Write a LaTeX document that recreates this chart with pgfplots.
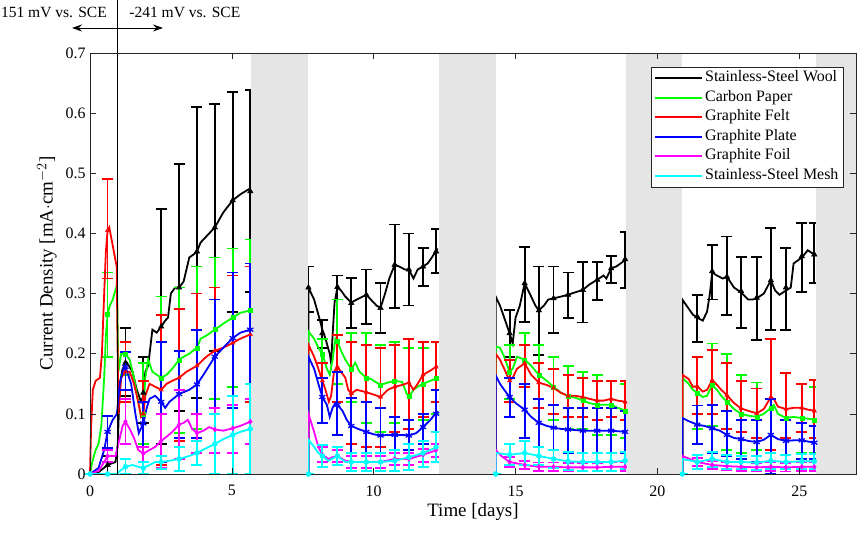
\documentclass[border=0pt]{standalone}
\usepackage{pgfplots}
\pgfplotsset{compat=1.18}
\usepackage{fontspec}
\setmainfont{Liberation Serif}
\usetikzlibrary{arrows.meta,calc}
\definecolor{mgreen}{rgb}{0,1,0}
\definecolor{mred}{rgb}{1,0,0}
\definecolor{mblue}{rgb}{0,0,1}
\definecolor{mmag}{rgb}{1,0,1}
\definecolor{mcyan}{rgb}{0,1,1}
\definecolor{band}{rgb}{0.898,0.898,0.898}
\newcommand{\fs}{\fontsize{16}{19}\selectfont}
\newcommand{\fa}{\fontsize{15.6}{19}\selectfont}
\pgfplotsset{
  errstyle/.style={only marks, forget plot,
    error bars/y dir=both, error bars/y explicit,
    error bars/error bar style={line width=1.8bp, solid},
    error bars/error mark options={rotate=90, mark size=5.5bp, line width=1.8bp}},
  lstyle/.style={line width=1.8bp, forget plot, mark=none},
}
\begin{document}
\begin{tikzpicture}
\begin{axis}[
  width=766bp, height=421bp, scale only axis,
  xmin=0, xmax=27, ymin=0, ymax=0.7,
  xtick={0,5,10,15,20,25},
  ytick={0,0.1,0.2,0.3,0.4,0.5,0.6,0.7},
  yticklabels={0,0.1,0.2,0.3,0.4,0.5,0.6,0.7},
  /pgf/number format/assume math mode=true,
  tick label style={font=\fs},
  xticklabel style={yshift=-8bp},
  yticklabel style={xshift=-1bp},
  major tick length=6bp,
  axis line style={black!85, line width=0.6bp},
  tick style={black!85, line width=0.6bp},
  clip=false, axis on top,
  unbounded coords=jump,
  xlabel={Time [days]}, ylabel={Current Density [mA$\cdot$cm$^{-2}$]},
  label style={font=\fontsize{19}{21}\selectfont},
  xlabel style={at={(axis description cs:0.5,-0.0903)}, anchor=center},
  ylabel style={at={(axis description cs:-0.0561,0.5)}, anchor=center},
  legend style={at={(axis description cs:0.984,0.9675)}, anchor=north east,
    font=\fontsize{16}{19.5}\selectfont, draw=black!85, line width=0.6bp, fill=white,
    inner xsep=2.5bp, inner ysep=1.7bp, row sep=0bp,
    nodes={inner ysep=0bp, inner xsep=2.5bp, text height=13.3bp, text depth=6.2bp}},
  legend cell align=left,
  legend image code/.code={\draw[#1, line width=2bp] (0bp,0bp) -- (46.5bp,0bp);},
]
\addlegendimage{black}\addlegendentry{Stainless-Steel Wool}
\addlegendimage{mgreen}\addlegendentry{Carbon Paper}
\addlegendimage{mred}\addlegendentry{Graphite Felt}
\addlegendimage{mblue}\addlegendentry{Graphite Plate}
\addlegendimage{mmag}\addlegendentry{Graphite Foil}
\addlegendimage{mcyan}\addlegendentry{Stainless-Steel Mesh}

% ---------------- Stainless-Steel Wool
\addplot[lstyle, black] coordinates {
(0,0) (0.3,0.003) (0.62,0.015) (0.9,0.02) (0.98,0.05) (1.05,0.15) (1.15,0.175) (1.3,0.185) (1.5,0.17) (1.65,0.14) (1.8,0.12) (1.88,0.13) (1.95,0.17) (2.05,0.18) (2.2,0.24) (2.35,0.235) (2.51,0.245) (2.65,0.255) (2.75,0.26) (2.85,0.3) (3.0,0.31) (3.14,0.31) (3.3,0.32) (3.5,0.36) (3.65,0.365) (3.77,0.37) (3.9,0.385) (4.1,0.395) (4.4,0.41) (4.7,0.435) (5.03,0.455) (5.3,0.465) (5.65,0.475)
(6.5,nan)
(7.7,0) (7.7,0.31) (7.9,0.29) (8.05,0.265) (8.19,0.24) (8.3,0.225) (8.45,0.2) (8.5,0.185) (8.55,0.23) (8.62,0.285) (8.72,0.31) (8.85,0.305) (9.0,0.295) (9.21,0.285) (9.4,0.29) (9.74,0.298) (9.9,0.29) (10.1,0.28) (10.24,0.276) (10.4,0.3) (10.55,0.325) (10.74,0.348) (10.9,0.345) (11.1,0.34) (11.24,0.34) (11.4,0.325) (11.55,0.34) (11.74,0.345) (11.9,0.35) (12.05,0.36) (12.25,0.375)
(13,nan)
(14.3,0) (14.3,0.295) (14.45,0.28) (14.6,0.26) (14.79,0.234) (14.9,0.217) (15.0,0.26) (15.15,0.28) (15.32,0.317) (15.5,0.3) (15.7,0.28) (15.82,0.272) (16.0,0.28) (16.15,0.29) (16.34,0.292) (16.6,0.295) (16.85,0.298) (17.1,0.302) (17.37,0.306) (17.6,0.315) (17.88,0.323) (18.1,0.33) (18.2,0.325) (18.37,0.342) (18.55,0.345) (18.7,0.35) (18.9,0.357)
(19.5,nan)
(20.88,0) (20.88,0.29) (21.1,0.275) (21.25,0.265) (21.4,0.26) (21.6,0.255) (21.75,0.27) (21.85,0.3) (21.93,0.335) (22.1,0.33) (22.3,0.325) (22.45,0.328) (22.7,0.31) (22.95,0.302) (23.2,0.29) (23.35,0.29) (23.5,0.292) (23.75,0.3) (24.0,0.322) (24.15,0.305) (24.3,0.298) (24.53,0.305) (24.7,0.31) (24.8,0.35) (25.09,0.36) (25.3,0.372) (25.53,0.365) (25.58,0.365)
};
\addplot[errstyle, black, mark=triangle*, mark size=3.2bp] table[x=x,y=y,y error plus expr=\thisrow{t}-\thisrow{y},y error minus expr=\thisrow{y}-\thisrow{b}] {
x y t b
0.62 0.015 0.03 0.0
1.25 0.185 0.243 0.13
1.88 0.135 0.195 0.085
2.51 0.245 0.44 0.05
3.14 0.31 0.515 0.105
3.77 0.37 0.61 0.126
4.4 0.41 0.615 0.205
5.03 0.455 0.635 0.27
5.65 0.47 0.638 0.303
7.7 0.31 0.345 0.27
8.19 0.234 0.256 0.21
8.72 0.311 0.33 0.29
9.21 0.284 0.326 0.243
9.74 0.298 0.34 0.25
10.24 0.276 0.318 0.234
10.74 0.348 0.415 0.276
11.24 0.34 0.4 0.28
11.74 0.345 0.376 0.313
12.2 0.37 0.407 0.334
14.79 0.234 0.273 0.195
15.32 0.317 0.378 0.253
15.82 0.272 0.345 0.198
16.34 0.292 0.345 0.234
16.85 0.298 0.335 0.259
17.37 0.306 0.353 0.252
17.88 0.323 0.353 0.289
18.37 0.342 0.362 0.318
18.86 0.357 0.403 0.309
21.4 0.262 0.298 0.22
21.93 0.337 0.381 0.29
22.45 0.328 0.395 0.265
22.95 0.304 0.361 0.243
23.5 0.293 0.361 0.223
24.0 0.322 0.409 0.24
24.53 0.31 0.376 0.24
25.09 0.362 0.418 0.302
25.53 0.365 0.417 0.317
};

% ---------------- Carbon Paper
\addplot[lstyle, mgreen] coordinates {
(0,0) (0.08,0.02) (0.2,0.04) (0.3,0.05) (0.4,0.08) (0.5,0.16) (0.56,0.23) (0.62,0.266) (0.7,0.28) (0.8,0.29) (0.95,0.314) (1.0,0.17) (1.1,0.2) (1.25,0.2) (1.4,0.19) (1.55,0.16) (1.7,0.12) (1.8,0.095) (1.88,0.1) (1.95,0.16) (2.05,0.19) (2.2,0.17) (2.35,0.165) (2.51,0.16) (2.7,0.165) (2.9,0.175) (3.14,0.19) (3.3,0.195) (3.5,0.2) (3.77,0.21) (3.9,0.225) (4.1,0.23) (4.4,0.24) (4.7,0.25) (5.03,0.26) (5.3,0.268) (5.65,0.272)
(6.5,nan)
(7.7,0) (7.7,0.237) (7.9,0.225) (8.05,0.21) (8.19,0.2) (8.35,0.175) (8.45,0.165) (8.55,0.19) (8.65,0.225) (8.72,0.22) (8.85,0.205) (9.0,0.19) (9.21,0.175) (9.35,0.185) (9.5,0.17) (9.74,0.16) (9.9,0.158) (10.24,0.148) (10.5,0.152) (10.74,0.155) (11.0,0.153) (11.15,0.135) (11.24,0.128) (11.4,0.14) (11.55,0.145) (11.74,0.15) (12.0,0.155) (12.25,0.16)
(13,nan)
(14.3,0) (14.3,0.212) (14.45,0.21) (14.6,0.195) (14.79,0.17) (14.9,0.175) (15.05,0.195) (15.32,0.19) (15.55,0.18) (15.82,0.165) (16.1,0.155) (16.34,0.145) (16.6,0.135) (16.85,0.13) (17.1,0.127) (17.37,0.122) (17.6,0.118) (17.88,0.115) (18.1,0.115) (18.37,0.115) (18.6,0.11) (18.9,0.105)
(19.5,nan)
(20.88,0) (20.88,0.16) (21.1,0.15) (21.25,0.14) (21.4,0.135) (21.6,0.128) (21.75,0.13) (21.93,0.148) (22.1,0.14) (22.25,0.13) (22.45,0.12) (22.7,0.108) (22.95,0.1) (23.2,0.097) (23.5,0.095) (23.75,0.1) (24.0,0.11) (24.1,0.115) (24.25,0.1) (24.53,0.093) (24.8,0.095) (25.09,0.093) (25.3,0.092) (25.58,0.09)
};
\addplot[errstyle, mgreen, mark=square*, mark size=2bp] table[x=x,y=y,y error plus expr=\thisrow{t}-\thisrow{y},y error minus expr=\thisrow{y}-\thisrow{b}] {
x y t b
0.62 0.266 0.335 0.195
1.25 0.2 0.22 0.165
1.88 0.1 0.185 0.05
2.51 0.16 0.295 0.03
3.14 0.19 0.31 0.068
3.77 0.21 0.345 0.075
4.4 0.24 0.36 0.125
5.03 0.26 0.375 0.145
5.65 0.272 0.39 0.15
8.19 0.2 0.225 0.16
8.72 0.22 0.29 0.15
9.21 0.175 0.235 0.12
9.74 0.16 0.235 0.085
10.24 0.148 0.215 0.07
10.74 0.155 0.22 0.085
11.24 0.13 0.21 0.075
11.74 0.15 0.21 0.09
12.2 0.16 0.22 0.1
14.79 0.17 0.215 0.125
15.32 0.19 0.234 0.145
15.82 0.165 0.215 0.11
16.34 0.145 0.195 0.09
16.85 0.13 0.18 0.075
17.37 0.122 0.17 0.075
17.88 0.115 0.165 0.065
18.37 0.115 0.155 0.065
18.86 0.105 0.15 0.06
21.4 0.135 0.195 0.075
21.93 0.148 0.217 0.08
22.45 0.12 0.2 0.04
22.95 0.1 0.165 0.035
23.5 0.095 0.152 0.04
24.0 0.11 0.225 0.0
24.53 0.093 0.168 0.02
25.09 0.093 0.15 0.035
25.53 0.09 0.145 0.035
};

% ---------------- Graphite Felt
\addplot[lstyle, mred] coordinates {
(0,0) (0.04,0.08) (0.1,0.14) (0.2,0.155) (0.35,0.16) (0.42,0.2) (0.5,0.3) (0.56,0.37) (0.62,0.405) (0.68,0.41) (0.8,0.38) (0.94,0.345) (1.0,0.1) (1.1,0.16) (1.25,0.17) (1.4,0.17) (1.55,0.15) (1.7,0.12) (1.8,0.095) (1.88,0.1) (1.95,0.13) (2.1,0.15) (2.3,0.145) (2.51,0.14) (2.7,0.15) (2.9,0.155) (3.14,0.16) (3.4,0.17) (3.77,0.18) (4.1,0.195) (4.4,0.205) (4.7,0.21) (5.03,0.218) (5.3,0.225) (5.65,0.232)
(6.5,nan)
(7.7,0) (7.7,0.215) (7.9,0.195) (8.05,0.175) (8.19,0.155) (8.3,0.14) (8.42,0.12) (8.5,0.13) (8.6,0.17) (8.72,0.178) (8.85,0.17) (9.0,0.16) (9.1,0.14) (9.21,0.134) (9.4,0.14) (9.74,0.136) (10.0,0.132) (10.24,0.128) (10.5,0.14) (10.74,0.145) (11.0,0.148) (11.24,0.152) (11.4,0.14) (11.55,0.15) (11.74,0.165) (12.0,0.172) (12.25,0.18)
(13,nan)
(14.3,0) (14.3,0.2) (14.45,0.19) (14.6,0.175) (14.79,0.155) (14.9,0.16) (15.05,0.175) (15.32,0.184) (15.55,0.165) (15.82,0.152) (16.1,0.148) (16.34,0.143) (16.6,0.135) (16.85,0.13) (17.1,0.13) (17.37,0.128) (17.6,0.125) (17.88,0.122) (18.1,0.122) (18.37,0.125) (18.6,0.122) (18.9,0.12)
(19.5,nan)
(20.88,0) (20.88,0.165) (21.1,0.158) (21.25,0.145) (21.4,0.146) (21.6,0.137) (21.75,0.14) (21.93,0.156) (22.1,0.148) (22.25,0.14) (22.45,0.131) (22.7,0.118) (22.95,0.109) (23.2,0.105) (23.5,0.101) (23.75,0.108) (24.0,0.128) (24.1,0.125) (24.25,0.112) (24.53,0.108) (24.8,0.11) (25.09,0.11) (25.3,0.107) (25.58,0.105)
};
\addplot[errstyle, mred, mark=triangle*, mark size=2.5bp] table[x=x,y=y,y error plus expr=\thisrow{t}-\thisrow{y},y error minus expr=\thisrow{y}-\thisrow{b}] {
x y t b
0.62 0.405 0.49 0.325
1.25 0.17 0.22 0.12
1.88 0.1 0.155 0.045
2.51 0.14 0.265 0.015
3.14 0.16 0.275 0.055
3.77 0.18 0.3 0.06
4.4 0.205 0.31 0.11
5.03 0.218 0.33 0.11
5.65 0.232 0.345 0.12
8.19 0.155 0.185 0.085
8.72 0.178 0.231 0.12
9.21 0.134 0.22 0.05
9.74 0.136 0.215 0.045
10.24 0.128 0.21 0.045
10.74 0.145 0.215 0.07
11.24 0.152 0.225 0.075
11.74 0.165 0.22 0.095
12.2 0.178 0.22 0.12
14.79 0.155 0.19 0.12
15.32 0.184 0.215 0.145
15.82 0.152 0.185 0.11
16.34 0.143 0.175 0.1
16.85 0.13 0.165 0.095
17.37 0.128 0.16 0.095
17.88 0.122 0.155 0.09
18.37 0.125 0.155 0.095
18.86 0.12 0.155 0.09
21.4 0.146 0.195 0.1
21.93 0.156 0.206 0.1
22.45 0.131 0.184 0.075
22.95 0.109 0.155 0.07
23.5 0.101 0.142 0.06
24.0 0.128 0.224 0.04
24.53 0.108 0.168 0.06
25.09 0.11 0.15 0.07
25.53 0.105 0.156 0.06
};

% ---------------- Graphite Plate
\addplot[lstyle, mblue] coordinates {
(0,0) (0.3,0.01) (0.5,0.04) (0.62,0.07) (0.8,0.09) (0.95,0.1) (1.05,0.15) (1.15,0.17) (1.25,0.178) (1.45,0.15) (1.6,0.1) (1.72,0.068) (1.88,0.084) (2.0,0.11) (2.1,0.125) (2.3,0.13) (2.51,0.12) (2.65,0.11) (2.8,0.12) (3.14,0.133) (3.5,0.14) (3.77,0.149) (4.0,0.165) (4.2,0.18) (4.4,0.195) (4.7,0.21) (5.03,0.226) (5.3,0.235) (5.65,0.24)
(6.5,nan)
(7.7,0) (7.7,0.195) (7.9,0.175) (8.05,0.15) (8.19,0.128) (8.35,0.115) (8.45,0.095) (8.55,0.11) (8.65,0.118) (8.72,0.115) (8.9,0.105) (9.05,0.09) (9.21,0.08) (9.45,0.075) (9.74,0.07) (10.0,0.066) (10.24,0.064) (10.5,0.065) (10.74,0.065) (11.0,0.065) (11.24,0.064) (11.5,0.068) (11.74,0.078) (12.0,0.09) (12.25,0.105)
(13,nan)
(14.3,0) (14.3,0.164) (14.45,0.15) (14.6,0.14) (14.79,0.128) (15.0,0.118) (15.32,0.107) (15.55,0.095) (15.82,0.085) (16.1,0.08) (16.34,0.077) (16.6,0.075) (16.85,0.074) (17.37,0.072) (17.88,0.072) (18.37,0.072) (18.9,0.07)
(19.5,nan)
(20.88,0) (20.88,0.093) (21.1,0.088) (21.4,0.082) (21.65,0.08) (21.93,0.076) (22.2,0.072) (22.45,0.065) (22.7,0.06) (22.95,0.058) (23.2,0.055) (23.5,0.053) (23.75,0.057) (24.0,0.065) (24.25,0.058) (24.53,0.055) (24.8,0.056) (25.09,0.056) (25.3,0.054) (25.58,0.052)
};
\addplot[errstyle, mblue, mark=asterisk, mark size=3.5bp, mark options={line width=1.3bp}] table[x=x,y=y,y error plus expr=\thisrow{t}-\thisrow{y},y error minus expr=\thisrow{y}-\thisrow{b}] {
x y t b
0.62 0.07 0.097 0.043
1.25 0.178 0.203 0.14
1.88 0.084 0.12 0.045
2.51 0.12 0.22 0.02
3.14 0.133 0.205 0.06
3.77 0.149 0.24 0.06
4.4 0.195 0.29 0.1
5.03 0.226 0.335 0.11
5.65 0.24 0.35 0.125
8.19 0.128 0.16 0.085
8.72 0.115 0.17 0.065
9.21 0.08 0.126 0.02
9.74 0.07 0.12 0.02
10.24 0.064 0.11 0.03
10.74 0.065 0.095 0.04
11.24 0.064 0.09 0.04
11.74 0.078 0.1 0.05
12.2 0.1 0.14 0.07
14.79 0.128 0.16 0.095
15.32 0.107 0.15 0.06
15.82 0.085 0.125 0.045
16.34 0.077 0.115 0.04
16.85 0.074 0.11 0.035
17.37 0.072 0.11 0.035
17.88 0.072 0.11 0.035
18.37 0.072 0.11 0.035
18.86 0.07 0.105 0.035
21.4 0.082 0.114 0.05
21.93 0.076 0.115 0.035
22.45 0.065 0.105 0.03
22.95 0.058 0.09 0.025
23.5 0.053 0.09 0.02
24.0 0.065 0.125 0.0
24.53 0.055 0.09 0.02
25.09 0.056 0.085 0.025
25.53 0.052 0.08 0.025
};

% ---------------- Graphite Foil
\addplot[lstyle, mmag] coordinates {
(0,0) (0.3,0.005) (0.5,0.02) (0.62,0.03) (0.9,0.03) (1.05,0.06) (1.15,0.08) (1.25,0.087) (1.4,0.075) (1.55,0.06) (1.7,0.04) (1.88,0.034) (2.1,0.04) (2.3,0.045) (2.51,0.055) (2.7,0.062) (2.9,0.07) (3.14,0.082) (3.3,0.085) (3.45,0.09) (3.6,0.075) (3.77,0.068) (4.0,0.072) (4.2,0.078) (4.4,0.074) (4.7,0.072) (5.03,0.076) (5.3,0.08) (5.65,0.087)
(6.5,nan)
(7.7,0) (7.7,0.1) (7.9,0.07) (8.05,0.045) (8.19,0.032) (8.4,0.025) (8.55,0.028) (8.72,0.03) (9.0,0.022) (9.21,0.02) (9.74,0.02) (10.24,0.02) (10.74,0.025) (11.24,0.025) (11.74,0.032) (12.25,0.04)
(13,nan)
(14.3,0) (14.3,0.04) (14.5,0.03) (14.79,0.02) (15.32,0.015) (15.82,0.012) (16.34,0.012) (16.85,0.011) (17.37,0.011) (17.88,0.011) (18.37,0.012) (18.9,0.012)
(19.5,nan)
(20.88,0) (20.88,0.03) (21.4,0.02) (21.93,0.015) (22.45,0.013) (22.95,0.012) (23.5,0.011) (24.0,0.012) (24.53,0.011) (25.09,0.012) (25.58,0.012)
};
\addplot[errstyle, mmag, mark=diamond*, mark size=2.5bp] table[x=x,y=y,y error plus expr=\thisrow{t}-\thisrow{y},y error minus expr=\thisrow{y}-\thisrow{b}] {
x y t b
0.62 0.03 0.04 0.02
1.25 0.087 0.125 0.05
1.88 0.034 0.045 0.02
2.51 0.055 0.1 0.01
3.14 0.082 0.14 0.025
3.77 0.068 0.1 0.035
4.4 0.074 0.11 0.035
5.03 0.076 0.115 0.035
5.65 0.087 0.125 0.05
8.19 0.032 0.045 0.02
8.72 0.03 0.04 0.02
9.21 0.02 0.03 0.01
9.74 0.02 0.03 0.01
10.24 0.02 0.03 0.01
10.74 0.025 0.035 0.015
11.24 0.025 0.035 0.015
11.74 0.032 0.042 0.02
12.2 0.04 0.05 0.028
14.79 0.02 0.028 0.012
15.32 0.015 0.022 0.008
15.82 0.012 0.019 0.005
16.34 0.012 0.019 0.005
16.85 0.011 0.018 0.004
17.37 0.011 0.018 0.004
17.88 0.011 0.018 0.004
18.37 0.012 0.019 0.005
18.86 0.012 0.019 0.005
21.4 0.02 0.027 0.013
21.93 0.015 0.022 0.008
22.45 0.013 0.02 0.006
22.95 0.012 0.019 0.005
23.5 0.011 0.018 0.004
24.0 0.012 0.019 0.005
24.53 0.011 0.018 0.004
25.09 0.012 0.019 0.005
25.53 0.012 0.019 0.005
};

% ---------------- Stainless-Steel Mesh
\addplot[lstyle, mcyan] coordinates {
(0,0) (0.62,0) (0.95,0) (1.05,0.005) (1.25,0.012) (1.5,0.015) (1.7,0.012) (1.88,0.01) (2.1,0.015) (2.3,0.02) (2.51,0.02) (2.8,0.022) (3.14,0.025) (3.5,0.03) (3.77,0.035) (4.1,0.043) (4.4,0.05) (4.7,0.058) (5.03,0.065) (5.3,0.07) (5.65,0.075)
(6.5,nan)
(7.7,0) (7.7,0.057) (7.9,0.045) (8.05,0.035) (8.19,0.03) (8.4,0.022) (8.72,0.03) (9.0,0.02) (9.21,0.02) (9.74,0.02) (10.24,0.02) (10.74,0.022) (11.24,0.028) (11.74,0.035) (12.25,0.045)
(13,nan)
(14.3,0) (14.3,0.035) (14.79,0.032) (15.32,0.035) (15.82,0.03) (16.34,0.025) (16.85,0.021) (17.37,0.02) (17.88,0.02) (18.37,0.02) (18.9,0.022)
(19.5,nan)
(20.88,0) (20.88,0.025) (21.4,0.02) (21.93,0.025) (22.45,0.02) (22.95,0.02) (23.5,0.019) (24.0,0.022) (24.53,0.02) (25.09,0.021) (25.58,0.021)
};
\addplot[errstyle, mcyan, mark=*, mark size=2.5bp] table[x=x,y=y,y error plus expr=\thisrow{t}-\thisrow{y},y error minus expr=\thisrow{y}-\thisrow{b}] {
x y t b
0 0 0 0
0.62 0 0 0
1.25 0.012 0.025 0.0
1.88 0.01 0.02 0.0
2.51 0.02 0.03 0.008
3.14 0.025 0.045 0.005
3.77 0.035 0.055 0.015
4.4 0.05 0.1 0.0
5.03 0.065 0.13 0.0
5.65 0.075 0.15 0.0
7.7 0 0 0
8.19 0.03 0.048 0.012
8.72 0.03 0.045 0.015
9.21 0.02 0.035 0.005
9.74 0.02 0.035 0.005
10.24 0.02 0.035 0.005
10.74 0.022 0.04 0.005
11.24 0.028 0.05 0.006
11.74 0.035 0.055 0.012
12.2 0.045 0.07 0.02
14.3 0 0 0
14.79 0.032 0.05 0.015
15.32 0.035 0.055 0.015
15.82 0.03 0.045 0.015
16.34 0.025 0.04 0.01
16.85 0.021 0.036 0.006
17.37 0.02 0.035 0.005
17.88 0.02 0.035 0.005
18.37 0.02 0.035 0.005
18.86 0.022 0.036 0.008
20.88 0 0 0
21.4 0.02 0.032 0.008
21.93 0.025 0.036 0.012
22.45 0.02 0.032 0.008
22.95 0.02 0.03 0.008
23.5 0.019 0.03 0.007
24.0 0.022 0.035 0.008
24.53 0.02 0.032 0.008
25.09 0.021 0.033 0.008
25.53 0.021 0.033 0.008
};

% ---------------- gray off-periods
\addplot[fill=band, draw=none, forget plot] coordinates {(5.69,0.698) (7.69,0.698)} \closedcycle;
\addplot[fill=band, draw=none, forget plot] coordinates {(12.3,0.698) (14.3,0.698)} \closedcycle;
\addplot[fill=band, draw=none, forget plot] coordinates {(18.9,0.698) (20.86,0.698)} \closedcycle;
\addplot[fill=band, draw=none, forget plot] coordinates {(25.6,0.698) (27,0.698)} \closedcycle;

% ---------------- annotations
\draw[black, line width=0.8bp] (axis cs:0.962,0) -- (axis cs:0.962,0.788);
\draw[{Stealth[length=10bp,width=7bp]}-{Stealth[length=10bp,width=7bp]}, line width=0.9bp] (axis cs:-0.634,0.7416) -- (axis cs:2.573,0.7416);
\node[font=\fa, anchor=east, inner sep=0pt] at (axis cs:0.60,0.7666) {151 mV vs. SCE};
\node[font=\fa, anchor=west, inner sep=0pt] at (axis cs:1.38,0.7666) {-241 mV vs. SCE};
\end{axis}
\pgfresetboundingbox
\path[use as bounding box] ($(current axis.south west)+(-90bp,-67bp)$) rectangle ($(current axis.north east)+(2bp,53bp)$);
\end{tikzpicture}
\end{document}
